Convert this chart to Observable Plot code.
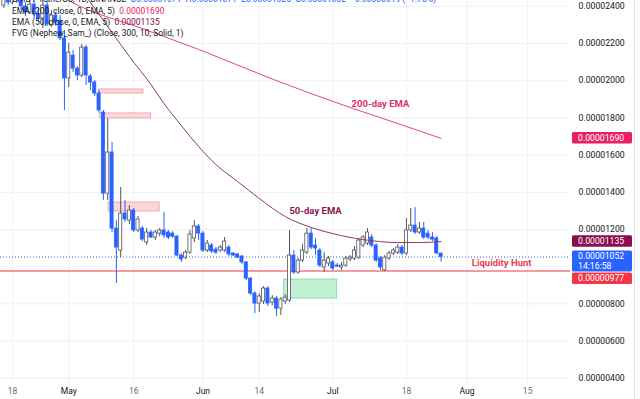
<!DOCTYPE html>
<html><head><meta charset="utf-8">
<script src="https://cdn.jsdelivr.net/npm/d3@7"></script>
<script src="https://cdn.jsdelivr.net/npm/@observablehq/plot@0.6"></script>
<style>
body{margin:0;background:#fff;font-family:Roboto,"Noto Sans",sans-serif;}
#wrap{position:relative;width:640px;height:399px;overflow:hidden;}
#legend{position:absolute;left:12px;top:-5.6px;font-size:8.5px;line-height:11.2px;color:#131722;white-space:nowrap;}
</style></head><body>
<div id="wrap"><div id="chart"></div>
<div id="legend">
<div>SHIB / TetherUS, 1D, BINANCE &nbsp;<span style="color:#2962ff">O0.00001071 &nbsp;H0.00001071 &nbsp;L0.00001025 &nbsp;C0.00001052 &nbsp;−0.00000019 (−1.78%)</span></div>
<div>EMA (200, close, 0, EMA, 5) &nbsp;<span style="color:#e91e63">0.00001690</span></div>
<div>EMA (50, close, 0, EMA, 5) &nbsp;<span style="color:#880e4f">0.00001135</span></div>
<div>FVG (Nephew_Sam_) (Close, 300, 10, Solid, 1)</div>
</div></div>
<script>
// Prices in units of 1e-8 (e.g. 1052 = 0.00001052). Daily candles starting 2022-04-16.
const firstDay = "2022-04-16";
const open = [2404,2458,2420,2474,2442,2399,2366,2409,2356,2334,2404,2297,2350,2323,2227,2012,2135,2065,2028,2178,2022,1990,1931,1829,1393,1614,1205,1087,1286,1248,1302,1195,1205,1130,1184,1157,1178,1195,1184,1178,1162,1060,1049,1076,1152,1216,1178,1087,1114,1092,1087,1087,1103,1071,1066,1055,1023,936,856,802,813,883,807,829,775,813,818,1060,969,1033,1076,1178,1114,1087,996,1017,1023,1006,996,1006,1039,1044,1049,1114,1125,1157,1114,1044,980,1044,1071,1076,1103,1071,1195,1221,1184,1205,1178,1157,1152,1071];
const high = [2485,2496,2512,2506,2463,2420,2431,2431,2388,2458,2431,2377,2366,2350,2270,2200,2162,2076,2194,2189,2033,2001,1947,1840,1797,1668,1248,1426,1356,1329,1313,1270,1216,1205,1195,1195,1205,1291,1195,1189,1168,1071,1087,1195,1248,1227,1189,1141,1125,1103,1114,1157,1114,1076,1071,1060,1028,942,866,856,893,893,845,840,834,850,1195,1087,1044,1119,1205,1205,1152,1098,1076,1055,1033,1017,1023,1055,1060,1108,1152,1168,1205,1173,1125,1055,1060,1082,1098,1119,1114,1259,1313,1318,1238,1238,1195,1184,1162,1071];
const low = [2388,2404,2409,2415,2377,2345,2356,2334,2313,2280,2291,2286,2291,2216,1840,1963,2044,2001,2017,1974,1947,1915,1824,1356,1356,1184,910,1049,1238,1227,1184,1184,1135,1114,1152,1141,1162,1152,1146,1152,1055,1023,1039,1066,1130,1141,1076,1076,1071,1066,1076,1076,1055,1055,1044,1012,926,845,748,754,797,786,791,732,738,797,807,958,958,1023,1066,1092,1060,996,969,1001,980,996,980,996,1028,1033,1039,1103,1114,1103,1023,980,974,1033,1060,1066,1060,1060,1184,1173,1173,1146,1146,1135,1066,1025];
const close = [2458,2420,2474,2442,2399,2366,2409,2356,2334,2404,2302,2350,2313,2227,2012,2151,2065,2028,2178,2028,1990,1931,1840,1393,1614,1205,1103,1286,1254,1302,1195,1254,1146,1184,1157,1184,1195,1168,1157,1162,1060,1039,1076,1173,1216,1178,1087,1125,1082,1076,1103,1135,1066,1060,1049,1023,936,856,802,840,883,802,829,775,824,834,1060,969,1033,1087,1178,1103,1098,1006,1033,1044,990,1001,1006,1044,1049,1087,1141,1157,1184,1114,1033,996,1049,1071,1087,1103,1071,1195,1221,1184,1205,1157,1157,1146,1071,1052];

// EMA lines
const ema200Dates = ["2022-04-21","2022-05-01","2022-05-18","2022-05-31","2022-06-17","2022-07-04","2022-07-17","2022-07-26"];
const ema200Vals  = [2592,2431,2280,2168,2009,1864,1762,1690];
const ema50Dates = ["2022-05-04","2022-05-11","2022-05-15","2022-05-20","2022-05-23","2022-05-27","2022-05-31","2022-06-04","2022-06-09","2022-06-14","2022-06-20","2022-06-26","2022-07-01","2022-07-08","2022-07-16","2022-07-21","2022-07-26"];
const ema50Vals  = [2485,2259,2130,1979,1877,1759,1646,1549,1458,1367,1270,1211,1178,1146,1130,1130,1135];

// Fair value gap boxes
const fvgStart = ["2022-05-08T00:00Z","2022-05-08T06:00Z","2022-05-10T06:00Z","2022-06-19T18:00Z"];
const fvgEnd   = ["2022-05-18T06:00Z","2022-05-20T00:00Z","2022-05-22T00:00Z","2022-07-02T00:00Z"];
const fvgTop   = [1953,1824,1345,931];
const fvgBottom= [1931,1797,1297,829];
const fvgKind  = ["bear","bear","bear","bull"];

// Axes
const yTicks = [400,600,800,1000,1200,1400,1600,1800,2000,2200,2400];
const yLabelTicks = [400,600,800,1200,1400,1600,1800,2000,2200,2400];
const xTickDates = ["2022-04-18","2022-05-01","2022-05-16","2022-06-01","2022-06-14","2022-07-01","2022-07-18","2022-08-01","2022-08-15"];
const xTickLabels = ["18","May","16","Jun","14","Jul","18","Aug","15"];
const xTickIsMonth = [false,true,false,true,false,true,false,true,false];

// Levels & labels
const liquidityLevel = 977;
const lastPrice = 1052;
const ema200Last = 1690, ema50Last = 1135;
const annotations = [
  {date:"2022-07-12", v:1877, text:"200-day EMA", color:"#e0306a"},
  {date:"2022-06-27", v:1302, text:"50-day EMA", color:"#8a1650"},
  {date:"2022-08-09", v:1023, text:"Liquidity Hunt", color:"#e8404f"}
];

const DAY = 864e5;
const t0 = Date.parse(firstDay + "T00:00Z");
const candles = open.map((o,i)=>({date:new Date(t0 + i*DAY), o, h:high[i], l:low[i], c:close[i], up: close[i] >= o}));
const ema200 = ema200Dates.map((d,i)=>({date:new Date(d+"T00:00Z"), v:ema200Vals[i]}));
const ema50 = ema50Dates.map((d,i)=>({date:new Date(d+"T00:00Z"), v:ema50Vals[i]}));
const fvg = fvgStart.map((s,i)=>({x1:new Date(s), x2:new Date(fvgEnd[i]), y1:fvgBottom[i], y2:fvgTop[i], kind:fvgKind[i]}));
const xt = xTickDates.map((d,i)=>({date:new Date(d+"T00:00Z"), label:xTickLabels[i], month:xTickIsMonth[i]}));
const ann = annotations.map(a=>({...a, date:new Date(a.date+"T00:00Z")}));

const aprilRef = Date.parse("2022-04-18T00:00Z");
const xDomain = [new Date(aprilRef - 2.77*DAY), new Date(aprilRef + 128.9*DAY)];
const UP = "#50535e", DOWN = "#2962ff";

const plot = Plot.plot({
  width: 640, height: 399,
  marginLeft: 0, marginRight: 70, marginTop: 0, marginBottom: 15,
  style: {fontFamily: "Roboto, 'Noto Sans', sans-serif", color: "#131722", background: "#fff"},
  x: {type: "utc", domain: xDomain, axis: null},
  y: {domain: [367, 2431], axis: null},
  marks: [
    Plot.ruleY(yTicks, {stroke: "#eef1f7", strokeWidth: 1}),
    Plot.ruleX(xt, {x: "date", stroke: "#eef1f7", strokeWidth: 1}),
    Plot.rect(fvg, {x1: "x1", x2: "x2", y1: "y1", y2: "y2",
      fill: d => d.kind === "bull" ? "#bdf0cf" : "#fbd3d7",
      stroke: d => d.kind === "bull" ? "#8fdcaa" : "#f4a9b1", strokeWidth: 1, fillOpacity: 0.9}),
    Plot.ruleY([liquidityLevel], {stroke: "#f23645", strokeWidth: 1.2}),
    Plot.ruleY([lastPrice], {stroke: "#2962ff", strokeWidth: 1, strokeDasharray: "1,2"}),
    Plot.ruleX(candles, {x: "date", y1: "l", y2: "h", stroke: d => d.up ? UP : DOWN, strokeWidth: 1, clip: true}),
    Plot.rect(candles, {x1: d => new Date(+d.date - 0.36*DAY), x2: d => new Date(+d.date + 0.36*DAY),
      y1: "o", y2: "c", fill: d => d.up ? "#ffffff" : DOWN, stroke: d => d.up ? UP : DOWN, strokeWidth: 0.8, clip: true}),
    Plot.line(ema200, {x: "date", y: "v", stroke: "#e4477f", strokeWidth: 1, curve: "monotone-x", clip: true}),
    Plot.line(ema50, {x: "date", y: "v", stroke: "#8e3a5c", strokeWidth: 1, curve: "monotone-x", clip: true}),
    Plot.text(ann, {x: "date", y: "v", text: "text", fill: "color", fontWeight: "bold", fontSize: 9.5}),
    Plot.axisY({anchor: "right", ticks: yLabelTicks, tickSize: 0, tickPadding: 8, fontSize: 8.7, label: null,
      tickFormat: d => (d/1e8).toFixed(8)}),
    Plot.text(xt, {x: "date", text: "label", frameAnchor: "bottom", dy: 9, fontSize: 8.5,
      fill: d => d.month ? "#131722" : "#6a6d78", fontWeight: d => d.month ? "600" : "normal"})
  ]
});
document.getElementById("chart").appendChild(plot);

// Price tags on the right scale, positioned with the plot's own y scale; stacked when they would collide
const ys = plot.scale("y");
const svg = d3.select(plot);
const tags = [
  {v: ema200Last, fill: "#e91e63", lines: [(ema200Last/1e8).toFixed(8)]},
  {v: ema50Last, fill: "#880e4f", lines: [(ema50Last/1e8).toFixed(8)]},
  {v: lastPrice, fill: "#2962ff", lines: [(lastPrice/1e8).toFixed(8), "14:16:58"], top: true},
  {v: liquidityLevel, fill: "#f23645", lines: [(liquidityLevel/1e8).toFixed(8)]}
];
let prevBottom = -Infinity;
for (const t of tags) {
  const yc = ys.apply(t.v);
  const h = t.lines.length === 2 ? 21 : 11.5;
  let y0 = t.top ? yc - 6 : yc - h/2;
  if (y0 < prevBottom + 1) y0 = prevBottom + 1;
  prevBottom = y0 + h;
  const g = svg.append("g").attr("text-anchor", "start");
  g.append("rect").attr("x", 572).attr("y", y0).attr("width", 60).attr("height", h).attr("rx", 1.5).attr("fill", t.fill);
  t.lines.forEach((s, i) => g.append("text").attr("x", 578).attr("y", y0 + 5.8 + i*10)
    .attr("dy", "0.35em").attr("fill", "#fff").attr("font-size", 8.7).attr("text-anchor", "start").text(s));
}
svg.append("line").attr("x1", 634.5).attr("x2", 634.5).attr("y1", 0).attr("y2", 399).attr("stroke", "#e0e3eb");
</script>
</body></html>
